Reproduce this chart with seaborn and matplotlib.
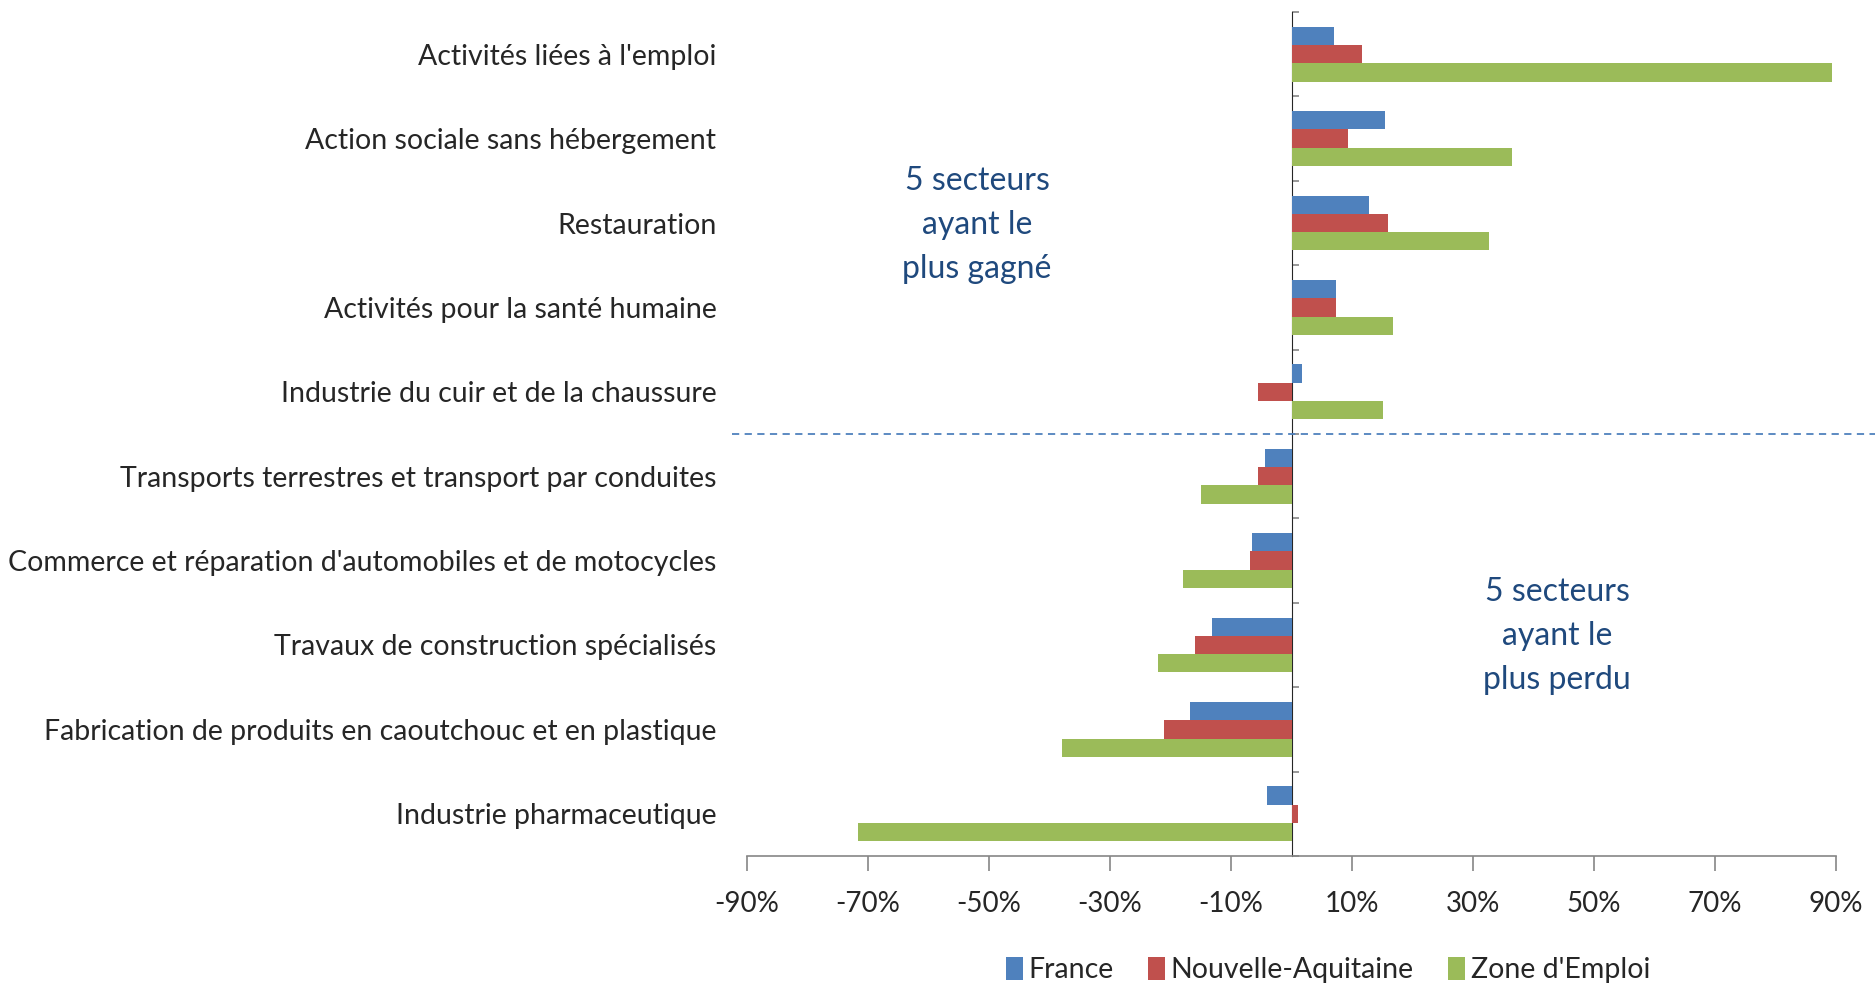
import pandas as pd
import matplotlib.pyplot as plt
import seaborn as sns

# Données (variation en %)
secteurs = [
    "Activités liées à l'emploi",
    "Action sociale sans hébergement",
    "Restauration",
    "Activités pour la santé humaine",
    "Industrie du cuir et de la chaussure",
    "Transports terrestres et transport par conduites",
    "Commerce et réparation d'automobiles et de motocycles",
    "Travaux de construction spécialisés",
    "Fabrication de produits en caoutchouc et en plastique",
    "Industrie pharmaceutique",
]
france = [7.0, 15.5, 12.8, 7.4, 1.8, -4.3, -6.6, -13.1, -16.8, -4.0]
nouvelle_aquitaine = [11.7, 9.4, 15.9, 7.4, -5.5, -5.5, -6.9, -16.0, -21.0, 1.0]
zone_emploi = [89.4, 36.5, 32.6, 16.7, 15.1, -14.9, -17.9, -22.1, -38.0, -71.7]

zones = ["France", "Nouvelle-Aquitaine", "Zone d'Emploi"]
couleurs = ["#4F81BD", "#C0504D", "#9BBB59"]
ticks_x = list(range(-90, 91, 20))

# Tableau long pour seaborn
df = pd.DataFrame({
    "Secteur": secteurs * 3,
    "Valeur": france + nouvelle_aquitaine + zone_emploi,
    "Zone": [z for z in zones for _ in secteurs],
})

sns.set_style("white")
plt.rcParams["font.family"] = ["Lato", "DejaVu Sans"]

fig = plt.figure(figsize=(18.75, 9.85), dpi=100)
ax = fig.add_axes([0.3984, 0.131, 0.5808, 0.8568])

sns.barplot(data=df, y="Secteur", x="Valeur", hue="Zone", orient="h",
            palette=couleurs, saturation=1, width=0.65, gap=0,
            linewidth=0, ax=ax, legend=True)

gris = "#868686"
ax.set_xlim(-90, 90)
ax.set_ylim(9.5, -0.5)
ax.set_xticks(ticks_x)
ax.set_xticklabels([f"{t}%" for t in ticks_x], fontsize=20, color="#262626")
ax.tick_params(axis="x", direction="out", length=11, width=1.2, color=gris, pad=14, bottom=True)
ax.tick_params(axis="y", length=0, pad=22, labelsize=20.5, labelcolor="#262626")
ax.set_xlabel("")
ax.set_ylabel("")
for cote in ["top", "right", "left"]:
    ax.spines[cote].set_visible(False)
ax.spines["bottom"].set_color(gris)
ax.spines["bottom"].set_linewidth(1.2)

# Axe vertical au zéro
axe0 = ax.secondary_yaxis(0.5)
axe0.set_yticks([i - 0.5 for i in range(len(secteurs) + 1)])
axe0.set_yticklabels([])
axe0.tick_params(length=5, width=1.2, color=gris, direction="out")
axe0.spines["left"].set_color(gris)
axe0.spines["left"].set_linewidth(1.2)

# Séparation gagnants / perdants
ax.axhline(4.5, xmin=-0.014, xmax=1.04, clip_on=False, color="#4F81BD",
           lw=1.3, ls=(0, (4, 3)))

bleu_texte = "#1F497D"
fig.text(977 / 1875, 1 - 225 / 985, "5 secteurs\nayant le\nplus gagné", ha="center", va="center",
         fontsize=23, color=bleu_texte, linespacing=1.6)
fig.text(1557 / 1875, 1 - 636 / 985, "5 secteurs\nayant le\nplus perdu", ha="center", va="center",
         fontsize=23, color=bleu_texte, linespacing=1.6)

handles, labels = ax.get_legend_handles_labels()
ax.legend_.remove()
fig.legend(handles, labels, loc="center", bbox_to_anchor=(1328 / 1875, 15 / 985), ncol=3,
           frameon=False, fontsize=20.5, handlelength=0.6, handleheight=0.9, handletextpad=0.2,
           columnspacing=1.2, labelcolor="#262626")

fig.savefig("out.png", dpi=100)
